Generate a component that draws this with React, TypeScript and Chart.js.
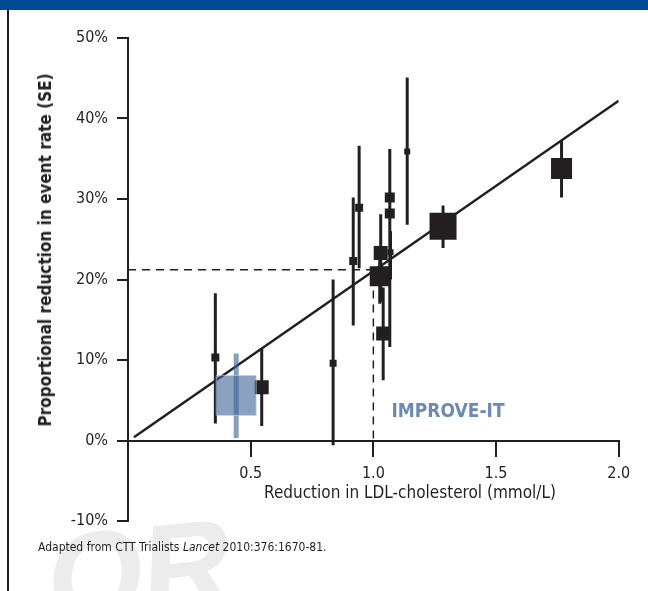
import React, { useEffect, useRef } from "react";
import { Chart, registerables } from "chart.js";

Chart.register(...registerables);

const FONT = '"Liberation Sans Narrow", "DejaVu Sans Condensed", "Liberation Sans", sans-serif';
const INK = "#231f20";

// Axis ticks
const xTickValues = [0.5, 1.0, 1.5, 2.0];
const yTickValues = [-10, 0, 10, 20, 30, 40, 50];

// Trials (statin trials, CTT meta-analysis)
const trialLDL = [0.356, 0.545, 0.836, 0.918, 0.942, 1.026, 1.03, 1.04, 1.067, 1.067, 1.07, 1.138, 1.284, 1.767];
const trialReduction = [10.3, 6.6, 9.6, 22.3, 28.9, 20.4, 23.3, 13.3, 30.2, 28.2, 23.4, 35.9, 26.6, 33.8];
const trialLow = [2.1, 1.8, -0.6, 14.3, 21.4, 17.0, 17.2, 7.5, 26.0, 11.6, 20.0, 26.8, 23.9, 30.2];
const trialHigh = [18.3, 11.4, 20.0, 30.2, 36.6, 23.5, 28.1, 19.0, 36.2, 30.0, 26.0, 45.1, 29.2, 37.3];
const trialWeight = [8, 14, 7, 8, 8, 20, 14, 14, 10, 10, 6, 6, 27, 21];

// IMPROVE-IT
const improveLDL = [0.441];
const improveReduction = [5.6];
const improveLow = [0.3];
const improveHigh = [10.8];
const improveWeight = [40];

// Regression line
const regX = [0.024, 2.0];
const regY = [0.4, 42.2];

// Reference (dashed) at 1 mmol/L
const refLDL = 1.0;
const refReduction = 21.2;

const radiusFor = (side: number) => side / (2 * Math.SQRT1_2);

function errorBarData(xs: number[], lo: number[], hi: number[]) {
  const out: any[] = [];
  xs.forEach((x, i) => {
    out.push({ x, y: lo[i] });
    out.push({ x, y: hi[i] });
    out.push({ x, y: null });
  });
  return out;
}

function App() {
  const ref = useRef<HTMLCanvasElement | null>(null);

  useEffect(() => {
    if (!ref.current) return;
    const chart = new Chart(ref.current, {
      type: "scatter",
      data: {
        datasets: [
          {
            // IMPROVE-IT square (top)
            data: improveLDL.map((x, i) => ({ x, y: improveReduction[i] })),
            pointStyle: "rect",
            pointRadius: improveWeight.map(radiusFor),
            backgroundColor: "rgba(60,100,150,0.6)",
            borderColor: "rgba(200,215,235,0.6)",
            borderWidth: 1,
            order: 1,
          } as any,
          {
            // IMPROVE-IT error bar
            data: errorBarData(improveLDL, improveLow, improveHigh),
            showLine: true,
            spanGaps: false,
            borderColor: "rgba(60,100,150,0.62)",
            borderWidth: 5,
            borderCapStyle: "butt",
            pointRadius: 0,
            order: 2,
          } as any,
          {
            // trial squares
            data: trialLDL.map((x, i) => ({ x, y: trialReduction[i] })),
            pointStyle: "rect",
            pointRadius: trialWeight.map(radiusFor),
            backgroundColor: INK,
            borderWidth: 0,
            order: 3,
          } as any,
          {
            // trial error bars
            data: errorBarData(trialLDL, trialLow, trialHigh),
            showLine: true,
            spanGaps: false,
            borderColor: INK,
            borderWidth: 3,
            borderCapStyle: "butt",
            pointRadius: 0,
            order: 4,
          } as any,
          {
            // regression line
            data: regX.map((x, i) => ({ x, y: regY[i] })),
            showLine: true,
            borderColor: INK,
            borderWidth: 2.5,
            pointRadius: 0,
            order: 5,
          } as any,
          {
            // dashed reference lines
            data: [
              { x: 0, y: refReduction },
              { x: refLDL, y: refReduction },
              { x: refLDL, y: 0 },
            ],
            showLine: true,
            borderColor: INK,
            borderWidth: 1.5,
            borderDash: [8, 6],
            pointRadius: 0,
            order: 6,
          } as any,
        ],
      },
      options: {
        animation: false,
        responsive: false,
        devicePixelRatio: 1,
        events: [],
        layout: { padding: { left: 8, top: 38, right: 28, bottom: 70 } },
        plugins: {
          legend: { display: false },
          tooltip: { enabled: false },
          title: { display: false },
        },
        scales: {
          x: {
            type: "linear",
            min: 0,
            max: 2,
            position: { y: 0 } as any,
            afterBuildTicks: (s: any) => {
              s.ticks = xTickValues.map((v) => ({ value: v }));
            },
            ticks: {
              callback: (v: any) => Number(v).toFixed(1),
              font: { family: FONT, size: 16 },
              color: INK,
              padding: 9,
              maxRotation: 0,
              autoSkip: false,
            },
            grid: {
              drawOnChartArea: false,
              drawTicks: true,
              tickLength: 15,
              color: INK,
              lineWidth: 2,
            },
            border: { display: true, color: INK, width: 2 },
          } as any,
          y: {
            type: "linear",
            min: -10,
            max: 50,
            afterBuildTicks: (s: any) => {
              s.ticks = yTickValues.map((v) => ({ value: v }));
            },
            afterFit: (s: any) => {
              s.width = 120;
            },
            ticks: {
              callback: (v: any) => `${v}%`,
              font: { family: FONT, size: 16 },
              color: INK,
              padding: 9,
              autoSkip: false,
            },
            grid: {
              drawOnChartArea: false,
              drawTicks: true,
              tickLength: 11,
              color: INK,
              lineWidth: 2,
            },
            border: { display: true, color: INK, width: 2 },
          } as any,
        },
      },
    });
    return () => chart.destroy();
  }, []);

  return (
    <div
      style={{
        position: "absolute",
        left: 0,
        top: 0,
        width: 648,
        height: 591,
        overflow: "hidden",
        background: "#fff",
        fontFamily: FONT,
        color: INK,
      }}
    >
      <div
        style={{
          position: "absolute",
          left: 48,
          top: 508,
          fontSize: 125,
          fontWeight: 700,
          color: "#ececec",
          transform: "rotate(-6deg) skewX(-8deg)",
          fontFamily: '"Liberation Sans", sans-serif',
          letterSpacing: -2,
          lineHeight: 1,
          whiteSpace: "nowrap",
        }}
      >
        OR
      </div>
      <canvas ref={ref} width={648} height={591} style={{ position: "absolute", left: 0, top: 0 }} />
      <div style={{ position: "absolute", left: 0, top: 0, width: 648, height: 10, background: "#004a93" }} />
      <div style={{ position: "absolute", left: 7, top: 10, width: 1.5, height: 581, background: INK }} />
      <div
        style={{
          position: "absolute",
          left: 45,
          top: 250,
          transform: "translate(-50%, -50%) rotate(-90deg)",
          fontSize: 17,
          fontWeight: 700,
          whiteSpace: "nowrap",
        }}
      >
        Proportional reduction in event rate (SE)
      </div>
      <div
        style={{
          position: "absolute",
          left: 410,
          top: 492,
          transform: "translate(-50%, -50%)",
          fontSize: 17,
          whiteSpace: "nowrap",
        }}
      >
        Reduction in LDL-cholesterol (mmol/L)
      </div>
      <div
        style={{
          position: "absolute",
          left: 448,
          top: 410,
          transform: "translate(-50%, -50%)",
          fontSize: 19,
          fontWeight: 700,
          color: "#6b8bb1",
          whiteSpace: "nowrap",
        }}
      >
        IMPROVE-IT
      </div>
      <div
        style={{
          position: "absolute",
          left: 38,
          top: 547,
          transform: "translateY(-50%)",
          fontSize: 12,
          whiteSpace: "nowrap",
        }}
      >
        Adapted from CTT Trialists <i>Lancet</i> 2010:376:1670-81.
      </div>
    </div>
  );
}

export default App;
